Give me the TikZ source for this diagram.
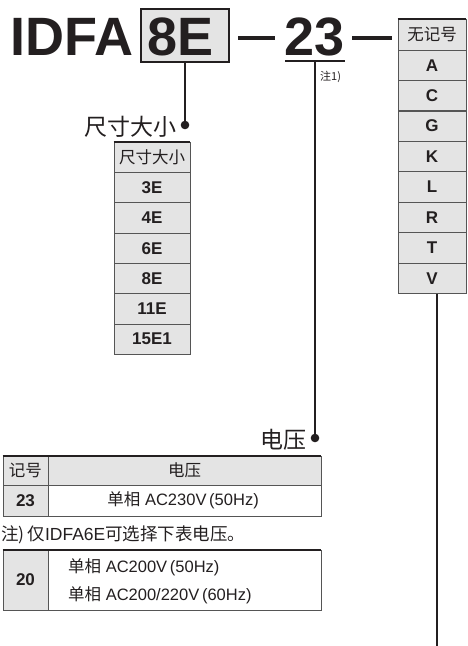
\documentclass[tikz,border=0pt]{standalone}
\usepackage{fontspec}
\setmainfont{Liberation Sans}
\newfontfamily\cjk{Noto Sans CJK SC}
\definecolor{ink}{HTML}{231F20}
\definecolor{cellgray}{HTML}{E4E4E4}
\definecolor{rulegray}{HTML}{555555}
\tikzset{
  big/.style={font=\fontsize{54}{54}\selectfont\bfseries, inner sep=0pt, anchor=base, text=ink},
  lbl/.style={font=\cjk\fontsize{23}{23}\selectfont, inner sep=0pt, anchor=east, text=ink},
  conn/.style={draw=ink, line width=1.6pt},
  dashbar/.style={draw=ink, line width=3.6pt},
  cell/.style={draw=rulegray, line width=0.8pt, fill=cellgray, inner sep=0pt, text=ink},
  wcell/.style={cell, fill=white},
  hdr/.style={font=\cjk\fontsize{16.5}{16.5}\selectfont},
  val/.style={font=\fontsize{17}{17}\selectfont\bfseries},
  txt/.style={font=\fontsize{16.5}{20}\selectfont},
  topline/.style={draw=ink, line width=2.2pt},
}
\begin{document}
\begin{tikzpicture}[x=1pt,y=-1pt]
\useasboundingbox (0,0) rectangle (467,646);
% model code
\node[big] (idfa) at (72,55) {IDFA};
\node[cell, line width=1.4pt, draw=ink, minimum width=88pt, minimum height=53pt] (box) at (185,35.5) {};
\node[big] (e8) at (181,55) {8E};
\node[big] (n23) at (315,55) {23};
\coordinate (da1) at (238,38); \coordinate (db1) at (275,38);
\draw[dashbar] (da1) -- (db1);
\coordinate (da2) at (352,38); \coordinate (db2) at (392,38);
\draw[dashbar] (da2) -- (db2);
\coordinate (ua) at (285,61); \coordinate (ub) at (345,61);
\draw[draw=ink, line width=2pt] (ua) -- (ub);
\coordinate (u23) at (315,61);
\node[font=\cjk\fontsize{11}{11}\selectfont, anchor=west, inner sep=0pt, text=ink] (note1) at (320,77) {注1)};

% size connector
\coordinate (d1) at (185,125);
\draw[conn] (box.south) -- (d1);
\fill[ink] (d1) circle (4.3pt);
\node[lbl] (sizelbl) at (177,127) {尺寸大小};

% size table
\node[cell, minimum width=76pt, minimum height=30.3pt, hdr] (s0) at (152,157.2) {尺寸大小};
\foreach \t [count=\i] in {3E,4E,6E,8E,11E,15E1}{
  \node[cell, minimum width=76pt, minimum height=30.3pt, val] (s\i) at (152,{157.2+30.33*\i}) {\t};
}
\draw[topline] (s0.north west) -- (s0.north east);

% right table
\node[cell, minimum width=68pt, minimum height=31pt, hdr] (r0) at (432,34.5) {无记号};
\foreach \t [count=\i] in {A,C,G,K,L,R,T,V}{
  \node[cell, minimum width=68pt, minimum height=30.4pt, val] (r\i) at (432,{34.8+30.44*\i}) {\t};
}
\draw[topline] (r0.north west) -- (r0.north east);
\coordinate (endc) at (437,646);
\draw[conn] (endc |- r8.south) -- (endc);

% voltage connector
\coordinate (d2) at (315,438);
\draw[conn] (u23) -- (d2);
\fill[ink] (d2) circle (4.3pt);
\node[lbl] (vlbl) at (307,440) {电压};

% voltage table
\node[cell, minimum width=45pt, minimum height=29pt, hdr] (vh1) at (25.5,470.5) {记号};
\node[cell, minimum width=273pt, minimum height=29pt, hdr] (vh2) at (184.5,470.5) {电压};
\node[cell, minimum width=45pt, minimum height=31pt, val] (v1) at (25.5,500.5) {23};
\node[wcell, minimum width=273pt, minimum height=31pt, txt] (v2) at (184.5,500.5) {{\cjk 单相} AC230V\,(50Hz)\,};
\draw[topline] (vh1.north west) -- (vh2.north east);

\node[font=\fontsize{17.5}{20}\selectfont, anchor=west, inner sep=0pt, text=ink] (note2) at (1,535) {{\cjk 注)\,仅}IDFA6E{\cjk 可选择下表电压。}};

\node[cell, minimum width=45pt, minimum height=60pt, val] (w1) at (25.5,580) {20};
\node[wcell, minimum width=273pt, minimum height=60pt] (w2) at (184.5,580) {};
\draw[topline] (w1.north west) -- (w2.north east);
\node[txt, anchor=west, inner sep=0pt, text=ink] (w2a) at (68,567) {{\cjk 单相} AC200V\,(50Hz)};
\node[txt, anchor=west, inner sep=0pt, text=ink] (w2b) at (68,595) {{\cjk 单相} AC200/220V\,(60Hz)};
\end{tikzpicture}
\end{document}
